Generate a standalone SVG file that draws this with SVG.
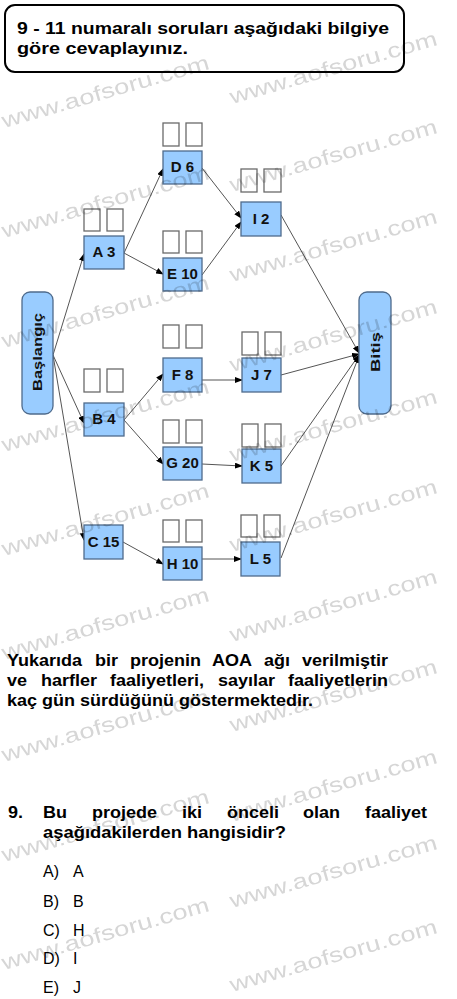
<svg xmlns="http://www.w3.org/2000/svg" width="457" height="999" viewBox="0 0 457 999">
<style>
.t{font-family:"Liberation Sans",Arial,sans-serif;font-weight:bold;font-size:16px;fill:#000}
.o{font-family:"Liberation Sans",Arial,sans-serif;font-size:16px;fill:#000}
.box{fill:#99ccff;stroke:#4f6b8c;stroke-width:1.3}
.sq{fill:#fff;stroke:#6a6a6a;stroke-width:1.3}
.lbl{font-family:"Liberation Sans Narrow","Liberation Sans",Arial,sans-serif;font-weight:bold;font-size:15px;fill:#111;text-anchor:middle}
.end{fill:#99ccff;stroke:#4f6b8c;stroke-width:1.3}
.endt{font-family:"Liberation Sans",Arial,sans-serif;font-weight:bold;font-size:12px;fill:#111;text-anchor:middle}
.c line{stroke:#555;stroke-width:1;marker-end:url(#ah)}
.wm text{font-family:"Liberation Sans",Arial,sans-serif;font-size:21px;fill:#d6d6d6}
</style>
<defs>
<marker id="ah" markerUnits="userSpaceOnUse" markerWidth="8" markerHeight="6" refX="7" refY="3" orient="auto">
<path d="M0,0 L8,3 L0,6 z" fill="#000"/>
</marker>
</defs>
<rect width="457" height="999" fill="#fff"/>

<g id="header">
<rect x="5" y="5" width="399" height="67" rx="10" fill="#fff" stroke="#000" stroke-width="2"/>
<text class="t" x="17" y="34" textLength="372" lengthAdjust="spacingAndGlyphs">9 - 11 numaralı soruları aşağıdaki bilgiye</text>
<text class="t" x="17" y="54" textLength="171" lengthAdjust="spacingAndGlyphs">göre cevaplayınız.</text>
</g>

<g class="c" id="connectors">
<line x1="53" y1="355" x2="84" y2="254"/>
<line x1="53" y1="355" x2="84" y2="423"/>
<line x1="53" y1="355" x2="84" y2="540"/>
<line x1="124" y1="253" x2="163" y2="169"/>
<line x1="124" y1="253" x2="163" y2="274"/>
<line x1="202" y1="168" x2="241" y2="218"/>
<line x1="202" y1="275" x2="241" y2="222"/>
<line x1="281" y1="215" x2="359" y2="353"/>
<line x1="124" y1="420" x2="163" y2="374"/>
<line x1="124" y1="420" x2="163" y2="464"/>
<line x1="202" y1="380" x2="242" y2="380"/>
<line x1="202" y1="464" x2="242" y2="466"/>
<line x1="281" y1="375" x2="359" y2="354"/>
<line x1="281" y1="466" x2="359" y2="355"/>
<line x1="281" y1="558" x2="359" y2="356"/>
<line x1="123" y1="542" x2="163" y2="564"/>
<line x1="202" y1="559" x2="241" y2="559"/>
</g>

<g id="baslangic">
<rect class="end" x="22" y="292" width="31" height="122" rx="8"/>
<text class="endt" transform="translate(42,352) rotate(-90)" textLength="78" lengthAdjust="spacingAndGlyphs">Başlangıç</text>
</g>
<g id="bitis">
<rect class="end" x="359" y="292" width="32" height="122" rx="8"/>
<text class="endt" transform="translate(380,352) rotate(-90)" textLength="40" lengthAdjust="spacingAndGlyphs">Bitiş</text>
</g>

<g id="A"><rect class="sq" x="84" y="209" width="16" height="22"/><rect class="sq" x="107" y="209" width="16" height="22"/><rect class="box" x="84" y="236" width="40" height="33"/><text class="lbl" x="104" y="257">A 3</text></g>
<g id="B"><rect class="sq" x="84" y="369" width="16" height="23"/><rect class="sq" x="107" y="369" width="16" height="23"/><rect class="box" x="84" y="403" width="40" height="33"/><text class="lbl" x="104" y="424">B 4</text></g>
<g id="C"><rect class="box" x="84" y="525" width="39" height="34"/><text class="lbl" x="103.5" y="547">C 15</text></g>
<g id="D"><rect class="sq" x="163" y="123" width="16" height="23"/><rect class="sq" x="186" y="123" width="16" height="23"/><rect class="box" x="163" y="151" width="39" height="33"/><text class="lbl" x="182.5" y="172">D 6</text></g>
<g id="E"><rect class="sq" x="163" y="231" width="16" height="22"/><rect class="sq" x="186" y="231" width="16" height="22"/><rect class="box" x="163" y="258" width="39" height="33"/><text class="lbl" x="182.5" y="279">E 10</text></g>
<g id="F"><rect class="sq" x="163" y="325" width="16" height="23"/><rect class="sq" x="186" y="325" width="16" height="23"/><rect class="box" x="163" y="358" width="39" height="34"/><text class="lbl" x="182.5" y="380">F 8</text></g>
<g id="G"><rect class="sq" x="163" y="420" width="16" height="23"/><rect class="sq" x="186" y="420" width="16" height="23"/><rect class="box" x="163" y="447" width="39" height="33"/><text class="lbl" x="182.5" y="468">G 20</text></g>
<g id="H"><rect class="sq" x="163" y="520" width="16" height="22"/><rect class="sq" x="186" y="520" width="16" height="22"/><rect class="box" x="163" y="547" width="39" height="33"/><text class="lbl" x="182.5" y="569">H 10</text></g>
<g id="I"><rect class="sq" x="241" y="169" width="16" height="23"/><rect class="sq" x="264" y="169" width="17" height="23"/><rect class="box" x="241" y="202" width="40" height="34"/><text class="lbl" x="261" y="224">I 2</text></g>
<g id="J"><rect class="sq" x="242" y="332" width="16" height="23"/><rect class="sq" x="265" y="332" width="16" height="23"/><rect class="box" x="242" y="358" width="39" height="34"/><text class="lbl" x="261.5" y="380">J 7</text></g>
<g id="K"><rect class="sq" x="242" y="424" width="16" height="23"/><rect class="sq" x="265" y="424" width="16" height="23"/><rect class="box" x="242" y="449" width="39" height="34"/><text class="lbl" x="261.5" y="471">K 5</text></g>
<g id="L"><rect class="sq" x="241" y="515" width="16" height="22"/><rect class="sq" x="264" y="515" width="16" height="22"/><rect class="box" x="241" y="542" width="39" height="34"/><text class="lbl" x="260.5" y="564">L 5</text></g>

<g id="paragraph">
<text class="t" x="7" y="666" textLength="75" lengthAdjust="spacingAndGlyphs">Yukarıda</text>
<text class="t" x="95" y="666" textLength="23" lengthAdjust="spacingAndGlyphs">bir</text>
<text class="t" x="130" y="666" textLength="71" lengthAdjust="spacingAndGlyphs">projenin</text>
<text class="t" x="212" y="666" textLength="40" lengthAdjust="spacingAndGlyphs">AOA</text>
<text class="t" x="264" y="666" textLength="26" lengthAdjust="spacingAndGlyphs">ağı</text>
<text class="t" x="302" y="666" textLength="86" lengthAdjust="spacingAndGlyphs">verilmiştir</text>
<text class="t" x="7" y="686" textLength="20" lengthAdjust="spacingAndGlyphs">ve</text>
<text class="t" x="41" y="686" textLength="56" lengthAdjust="spacingAndGlyphs">harfler</text>
<text class="t" x="110" y="686" textLength="94" lengthAdjust="spacingAndGlyphs">faaliyetleri,</text>
<text class="t" x="218" y="686" textLength="57" lengthAdjust="spacingAndGlyphs">sayılar</text>
<text class="t" x="288" y="686" textLength="100" lengthAdjust="spacingAndGlyphs">faaliyetlerin</text>
<text class="t" x="7" y="706" textLength="306" lengthAdjust="spacingAndGlyphs">kaç gün sürdüğünü göstermektedir.</text>
</g>

<g id="question">
<text class="t" x="8" y="818" textLength="15" lengthAdjust="spacingAndGlyphs">9.</text>
<text class="t" x="43" y="818" textLength="24" lengthAdjust="spacingAndGlyphs">Bu</text>
<text class="t" x="92" y="818" textLength="65" lengthAdjust="spacingAndGlyphs">projede</text>
<text class="t" x="182" y="818" textLength="20" lengthAdjust="spacingAndGlyphs">iki</text>
<text class="t" x="227" y="818" textLength="52" lengthAdjust="spacingAndGlyphs">önceli</text>
<text class="t" x="303" y="818" textLength="37" lengthAdjust="spacingAndGlyphs">olan</text>
<text class="t" x="365" y="818" textLength="62" lengthAdjust="spacingAndGlyphs">faaliyet</text>
<text class="t" x="43" y="838" textLength="243" lengthAdjust="spacingAndGlyphs">aşağıdakilerden hangisidir?</text>
<text class="o" y="877"><tspan x="43">A)</tspan><tspan x="73">A</tspan></text>
<text class="o" y="907"><tspan x="43">B)</tspan><tspan x="73">B</tspan></text>
<text class="o" y="936"><tspan x="43">C)</tspan><tspan x="73">H</tspan></text>
<text class="o" y="964"><tspan x="43">D)</tspan><tspan x="73">I</tspan></text>
<text class="o" y="993"><tspan x="43">E)</tspan><tspan x="73">J</tspan></text>
</g>

<g class="wm" id="watermarks" style="mix-blend-mode:multiply">
<text transform="translate(4,128) rotate(-16)" textLength="215" lengthAdjust="spacingAndGlyphs">www.aofsoru.com</text>
<text transform="translate(4,238) rotate(-16)" textLength="215" lengthAdjust="spacingAndGlyphs">www.aofsoru.com</text>
<text transform="translate(4,348) rotate(-16)" textLength="215" lengthAdjust="spacingAndGlyphs">www.aofsoru.com</text>
<text transform="translate(4,452) rotate(-16)" textLength="215" lengthAdjust="spacingAndGlyphs">www.aofsoru.com</text>
<text transform="translate(4,556) rotate(-16)" textLength="215" lengthAdjust="spacingAndGlyphs">www.aofsoru.com</text>
<text transform="translate(4,660) rotate(-16)" textLength="215" lengthAdjust="spacingAndGlyphs">www.aofsoru.com</text>
<text transform="translate(4,762) rotate(-16)" textLength="215" lengthAdjust="spacingAndGlyphs">www.aofsoru.com</text>
<text transform="translate(4,862) rotate(-16)" textLength="215" lengthAdjust="spacingAndGlyphs">www.aofsoru.com</text>
<text transform="translate(4,970) rotate(-16)" textLength="215" lengthAdjust="spacingAndGlyphs">www.aofsoru.com</text>
<text transform="translate(232,104) rotate(-16)" textLength="215" lengthAdjust="spacingAndGlyphs">www.aofsoru.com</text>
<text transform="translate(232,192) rotate(-16)" textLength="215" lengthAdjust="spacingAndGlyphs">www.aofsoru.com</text>
<text transform="translate(232,282) rotate(-16)" textLength="215" lengthAdjust="spacingAndGlyphs">www.aofsoru.com</text>
<text transform="translate(232,372) rotate(-16)" textLength="215" lengthAdjust="spacingAndGlyphs">www.aofsoru.com</text>
<text transform="translate(232,462) rotate(-16)" textLength="215" lengthAdjust="spacingAndGlyphs">www.aofsoru.com</text>
<text transform="translate(232,552) rotate(-16)" textLength="215" lengthAdjust="spacingAndGlyphs">www.aofsoru.com</text>
<text transform="translate(232,642) rotate(-16)" textLength="215" lengthAdjust="spacingAndGlyphs">www.aofsoru.com</text>
<text transform="translate(232,732) rotate(-16)" textLength="215" lengthAdjust="spacingAndGlyphs">www.aofsoru.com</text>
<text transform="translate(232,822) rotate(-16)" textLength="215" lengthAdjust="spacingAndGlyphs">www.aofsoru.com</text>
<text transform="translate(232,908) rotate(-16)" textLength="215" lengthAdjust="spacingAndGlyphs">www.aofsoru.com</text>
<text transform="translate(232,992) rotate(-16)" textLength="215" lengthAdjust="spacingAndGlyphs">www.aofsoru.com</text>
</g>
</svg>
